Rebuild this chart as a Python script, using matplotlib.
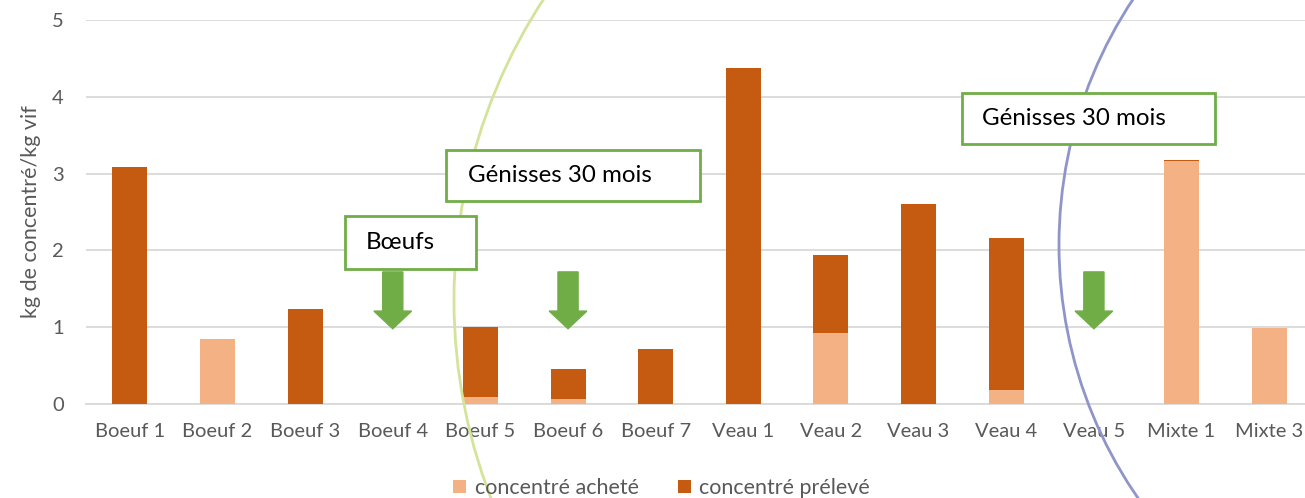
import matplotlib.pyplot as plt
import numpy as np
from matplotlib.patches import Ellipse, FancyArrow

plt.rcParams['font.family'] = ['Lato', 'DejaVu Sans']

# données
categories = ['Boeuf 1', 'Boeuf 2', 'Boeuf 3', 'Boeuf 4', 'Boeuf 5', 'Boeuf 6', 'Boeuf 7',
              'Veau 1', 'Veau 2', 'Veau 3', 'Veau 4', 'Veau 5', 'Mixte 1', 'Mixte 3']
achete = [0, 0.85, 0, 0, 0.09, 0.06, 0, 0, 0.93, 0, 0.18, 0, 3.17, 0.99]
preleve = [3.09, 0, 1.24, 0, 0.91, 0.39, 0.72, 4.37, 1.01, 2.61, 1.98, 0, 0.01, 0]
yticks = [0, 1, 2, 3, 4, 5]

c_achete = '#F4B183'
c_preleve = '#C55A11'
vert = '#70AD47'
gris = '#595959'

fig = plt.figure(figsize=(13.05, 4.98), dpi=100)
ax = fig.add_axes([86/1305, 1 - 404/498, (1313 - 86)/1305, 384/498])

x = np.arange(len(categories))
ax.bar(x, achete, width=0.4, color=c_achete, label='concentré acheté', zorder=3)
ax.bar(x, preleve, width=0.4, bottom=achete, color=c_preleve, label='concentré prélevé', zorder=3)

ax.set_xlim(-0.5, len(categories) - 0.5)
ax.set_ylim(0, 5)
ax.set_yticks(yticks)
ax.set_xticks(x)
ax.set_xticklabels(categories)
ax.tick_params(axis='both', length=0, labelsize=14.5, colors=gris)
ax.tick_params(axis='x', pad=14)
ax.tick_params(axis='y', pad=16)
ax.grid(axis='y', color='#D9D9D9', linewidth=1.3, zorder=0)
for s in ['top', 'right', 'left']:
    ax.spines[s].set_visible(False)
ax.spines['bottom'].set_color('#D9D9D9')
ax.spines['bottom'].set_linewidth(1.3)
ax.set_ylabel('kg de concentré/kg vif', fontsize=15.5, color=gris, labelpad=8)

# flèches vertes
for xa in [3, 5, 11]:
    ax.add_patch(FancyArrow(xa, 1.72, 0, -0.74, width=0.23, head_width=0.43,
                            head_length=0.23, length_includes_head=True,
                            color=vert, zorder=5))

# cadres de texte
def cadre(x0, y0, x1, y1, txt, tx):
    fig.patches.append(plt.Rectangle((x0/1305, 1 - y1/498), (x1 - x0)/1305, (y1 - y0)/498,
                                     transform=fig.transFigure, facecolor='white',
                                     edgecolor=vert, linewidth=2, zorder=6))
    fig.text(tx/1305, 1 - (y0 + y1)/2/498, txt, fontsize=17.4, color='black',
             va='center', ha='left', zorder=7)

cadre(345, 216, 476, 269, 'Bœufs', 366)
cadre(446, 150, 700, 201, 'Génisses 30 mois', 468)
cadre(962, 93, 1215, 144, 'Génisses 30 mois', 982)

# arcs
fig.patches.append(Ellipse((1004/1305, 1 - 300/498), 1100/1305, 1100/498,
                           transform=fig.transFigure, fill=False,
                           edgecolor='#D4E39A', linewidth=2, zorder=4))
fig.patches.append(Ellipse((1504/1305, 1 - 245/498), 890/1305, 890/498,
                           transform=fig.transFigure, fill=False,
                           edgecolor='#8E95C8', linewidth=2, zorder=4))

leg = fig.legend(loc='center', bbox_to_anchor=(0.507, 1 - 488/498), ncol=2, frameon=False,
                 fontsize=15.5, handlelength=0.6, handleheight=0.6, columnspacing=1.8,
                 handletextpad=0.4)
for t in leg.get_texts():
    t.set_color(gris)

fig.savefig('out.png', dpi=100)
